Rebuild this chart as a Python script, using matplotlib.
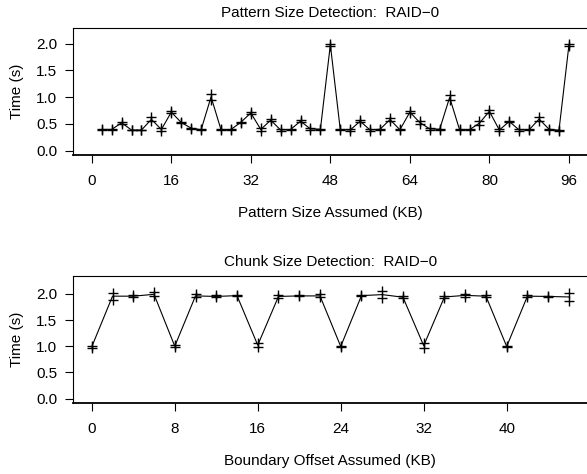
import matplotlib
matplotlib.use("Agg")
import matplotlib.pyplot as plt
import numpy as np

plt.rcParams['font.family'] = ['Liberation Sans', 'DejaVu Sans']
plt.rcParams['font.size'] = 11

# pattern size detection (two runs per point)
pattern_kb = np.arange(2, 97, 2)
pattern_run1 = [0.40, 0.40, 0.54, 0.39, 0.39, 0.62, 0.42, 0.74, 0.54, 0.43,
                0.40, 1.06, 0.40, 0.40, 0.54, 0.72, 0.42, 0.59, 0.40, 0.41,
                0.57, 0.42, 0.41, 2.00, 0.40, 0.40, 0.57, 0.40, 0.41, 0.61,
                0.40, 0.74, 0.55, 0.42, 0.41, 1.04, 0.40, 0.40, 0.55, 0.76,
                0.40, 0.56, 0.40, 0.40, 0.63, 0.41, 0.39, 1.99]
pattern_run2 = [0.39, 0.39, 0.50, 0.38, 0.38, 0.55, 0.37, 0.70, 0.51, 0.41,
                0.38, 0.95, 0.38, 0.39, 0.52, 0.69, 0.37, 0.55, 0.37, 0.38,
                0.53, 0.39, 0.39, 1.96, 0.38, 0.37, 0.53, 0.37, 0.39, 0.55,
                0.38, 0.70, 0.50, 0.39, 0.39, 0.95, 0.38, 0.38, 0.48, 0.71,
                0.37, 0.53, 0.37, 0.38, 0.55, 0.39, 0.37, 1.95]

# chunk size detection (two runs per point)
offset_kb = np.arange(0, 47, 2)
chunk_run1 = [1.01, 2.02, 1.97, 2.03, 1.02, 1.99, 1.97, 1.98, 1.06, 1.98,
              1.97, 1.99, 1.00, 1.98, 2.05, 1.95, 1.06, 1.96, 2.00, 1.98,
              1.00, 1.98, 1.96, 2.02]
chunk_run2 = [0.97, 1.89, 1.94, 1.95, 0.98, 1.93, 1.93, 1.95, 0.98, 1.92,
              1.95, 1.93, 0.99, 1.95, 1.92, 1.92, 0.96, 1.92, 1.94, 1.93,
              0.99, 1.93, 1.94, 1.86]

W, H = 587, 474
fig = plt.figure(figsize=(W / 100, H / 100), dpi=100)


def panel(rect, x, r1, r2, xlim, ylim, xticks, title, xlabel, tpad):
    ax = fig.add_axes(rect)
    r1 = np.array(r1)
    r2 = np.array(r2)
    ax.plot(x, (r1 + r2) / 2, color='k', lw=0.8)
    ax.plot(x, r1, '+', color='k', ms=6.5, mew=1.0)
    ax.plot(x, r2, '+', color='k', ms=6.5, mew=1.0)
    ax.set_xlim(*xlim)
    ax.set_ylim(*ylim)
    ax.set_xticks(xticks)
    ax.set_yticks([0, 0.5, 1.0, 1.5, 2.0])
    ax.set_yticklabels(["0.0", "0.5", "1.0", "1.5", "2.0"])
    ax.tick_params(direction='out', length=6, width=0.8, labelsize=11)
    ax.tick_params(axis='x', pad=7.5)
    ax.tick_params(axis='y', pad=5)
    for s in ax.spines.values():
        s.set_linewidth(0.8)
    ax.spines['bottom'].set_linewidth(1.3)
    ax.set_title(title, fontsize=11, pad=tpad)
    ax.set_xlabel(xlabel, fontsize=11, labelpad=13)
    ax.set_ylabel("Time (s)", fontsize=11, labelpad=9)
    return ax


panel([72.7 / W, 1 - 155.3 / H, (588 - 72.7) / W, 127.0 / H],
      pattern_kb, pattern_run1, pattern_run2,
      (-3.84, 99.84), (-0.088, 2.288), range(0, 97, 16),
      "Pattern Size Detection:  RAID\u22120", "Pattern Size Assumed (KB)", 8)

panel([72.7 / W, 1 - 403.3 / H, (588 - 72.7) / W, 127.3 / H],
      offset_kb, chunk_run1, chunk_run2,
      (-1.84, 47.84), (-0.09, 2.34), range(0, 41, 8),
      "Chunk Size Detection:  RAID\u22120", "Boundary Offset Assumed (KB)", 7)

fig.savefig("out.png", dpi=100)
